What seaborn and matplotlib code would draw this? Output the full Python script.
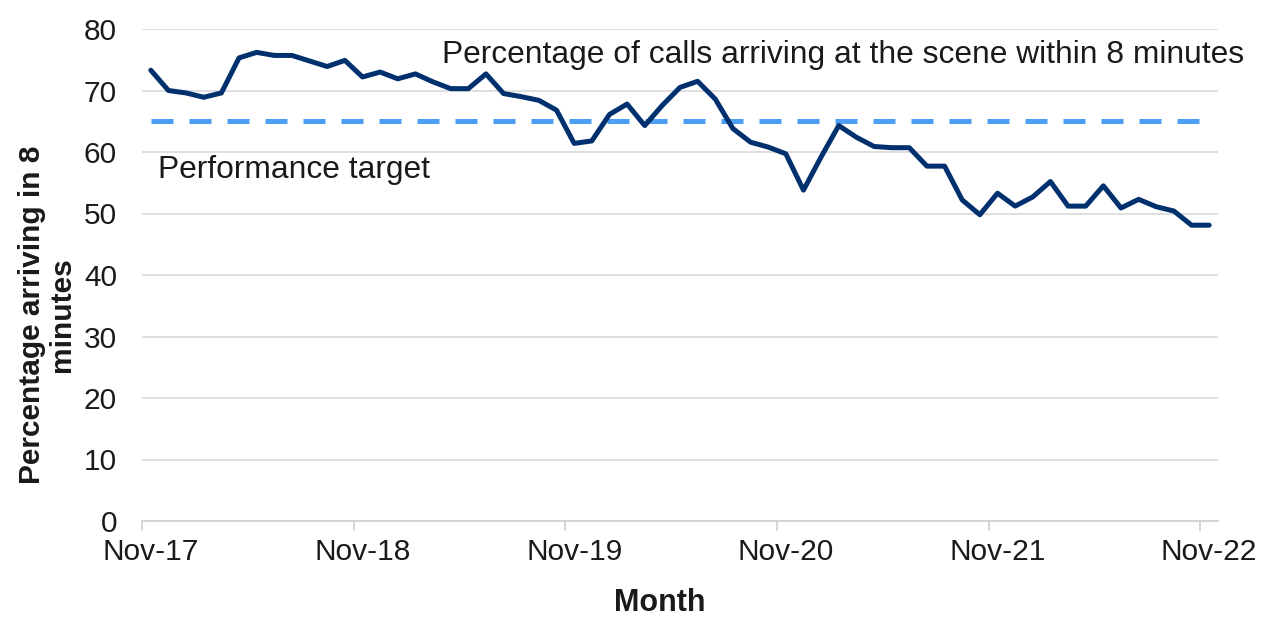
import numpy as np
import pandas as pd
import matplotlib
matplotlib.use("Agg")
import matplotlib.pyplot as plt
import seaborn as sns

# Monthly values, Nov-17 to Nov-22
months = pd.date_range("2017-11-01", "2022-11-01", freq="MS")
pct_8min = [73.3, 70.0, 69.6, 68.9, 69.6, 75.3, 76.2, 75.7, 75.7, 74.8,
            73.9, 74.9, 72.2, 73.0, 71.9, 72.7, 71.4, 70.3, 70.3, 72.7,
            69.5, 69.0, 68.4, 66.8, 61.4, 61.8, 66.1, 67.8, 64.3, 67.6,
            70.5, 71.5, 68.6, 63.8, 61.6, 60.8, 59.7, 53.8, 59.2, 64.3,
            62.4, 60.9, 60.7, 60.7, 57.7, 57.7, 52.2, 49.8, 53.3, 51.2,
            52.7, 55.2, 51.2, 51.2, 54.5, 50.9, 52.3, 51.1, 50.4, 48.1,
            48.1]
target = 65
tick_labels = ["Nov-17", "Nov-18", "Nov-19", "Nov-20", "Nov-21", "Nov-22"]

df = pd.DataFrame({"idx": np.arange(len(months)), "month": months,
                   "pct": pct_8min, "target": [target] * len(months)})

sns.set_theme(style="white")
plt.rcParams["font.family"] = ["Liberation Sans", "DejaVu Sans"]
txt = "#1a1a1a"
fs = 21.5

fig = plt.figure(figsize=(12.62, 6.18), dpi=100)
ax = fig.add_axes([142 / 1262, 1 - 521 / 618, 1076 / 1262, 492 / 618])

sns.lineplot(data=df, x="idx", y="target", ax=ax, color="#4d9ef5",
             linewidth=3.6, dashes=False)
ax.lines[-1].set_dashes((4.4, 3.2))
sns.lineplot(data=df, x="idx", y="pct", ax=ax, color="#00306e",
             linewidth=3.6)

ax.set_xlim(-0.5, len(months) - 0.5)
ax.set_ylim(0, 80)
ax.set_yticks(range(0, 81, 10))
ax.yaxis.grid(True, color="#d9d9d9", linewidth=1.2)
ax.xaxis.grid(False)

for s in ["top", "right", "left"]:
    ax.spines[s].set_visible(False)
ax.spines["bottom"].set_color("#d0d0d0")
ax.spines["bottom"].set_linewidth(1.2)

ax.set_xticks(df["idx"][::12])
ax.set_xticklabels(tick_labels)
ax.set_xticks(np.arange(-0.5, len(months), 12), minor=True)
ax.tick_params(axis="x", which="major", length=0, pad=12, labelsize=fs,
               labelcolor=txt)
ax.tick_params(axis="x", which="minor", length=7, width=1.2,
               color="#d0d0d0", direction="out", bottom=True)
ax.tick_params(axis="y", length=0, pad=18, labelsize=fs, labelcolor=txt)

ax.set_xlabel("Month", fontsize=22, fontweight="bold", color=txt)
ax.xaxis.set_label_coords((660 - 142) / 1076, -0.136)
ax.set_ylabel("Percentage arriving in 8\nminutes", fontsize=21.5,
              fontweight="bold", color=txt, linespacing=1.12)
ax.yaxis.set_label_coords(-0.061, (521 - 315) / 492)

ax.text(16.5, 75.8, "Percentage of calls arriving at the scene within 8 minutes",
        fontsize=22.9, color=txt, ha="left", va="center")
ax.text(0.4, 57.0, "Performance target", fontsize=22.9, color=txt,
        ha="left", va="center")

fig.savefig("out.png", dpi=100)
